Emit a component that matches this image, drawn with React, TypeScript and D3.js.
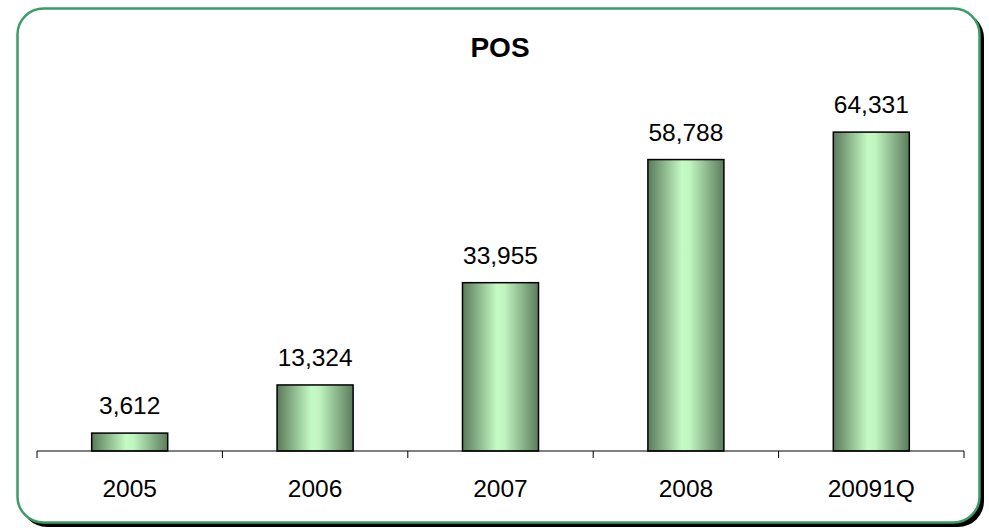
import React from "react";
import * as d3 from "d3";

const categories = ["2005", "2006", "2007", "2008", "20091Q"];
const values = [3612, 13324, 33955, 58788, 64331];
const title = "POS";

export default function App() {
  const W = 989, H = 530;
  const x0 = 37, x1 = 964, baseY = 451, topY = 104;
  const x = d3.scaleBand<string>().domain(categories).range([x0, x1]).paddingInner(0.59).paddingOuter(0.295);
  const xb = d3.scaleBand<string>().domain(categories).range([x0, x1]);
  const y = d3.scaleLinear().domain([0, 70000]).range([baseY, topY]);
  const fmt = d3.format(",");
  const ticks = d3.range(categories.length + 1).map(i => x0 + i * xb.step());
  return (
    <svg width={W} height={H} style={{ position: "absolute", left: 0, top: 0 }} fontFamily="Arial, 'Liberation Sans', sans-serif">
      <defs>
        <linearGradient id="barg" x1="0" x2="1" y1="0" y2="0">
          <stop offset="0" stopColor="#5a7a5a" />
          <stop offset="0.45" stopColor="#c4fac4" />
          <stop offset="0.55" stopColor="#c0f5c0" />
          <stop offset="1" stopColor="#5c7c5c" />
        </linearGradient>
      </defs>
      <rect x={21} y={12} width={963} height={515} rx={26} ry={26} fill="#000" />
      <rect x={17.5} y={8.5} width={962} height={514} rx={26} ry={26} fill="#fff" stroke="#3c9c68" strokeWidth={2.5} />
      <text x={500} y={57} textAnchor="middle" fontWeight="bold" fontSize={28}>{title}</text>
      {categories.map((c, i) => (
        <g key={c}>
          <rect x={x(c)!} y={y(values[i])} width={x.bandwidth()} height={baseY - y(values[i])} fill="url(#barg)" stroke="#000" strokeWidth={1.5} />
          <text x={x(c)! + x.bandwidth() / 2} y={y(values[i]) - 19} textAnchor="middle" fontSize={24.5}>{fmt(values[i])}</text>
          <text x={xb(c)! + xb.bandwidth() / 2} y={497} textAnchor="middle" fontSize={24.5}>{c}</text>
        </g>
      ))}
      <line x1={x0} x2={x1} y1={baseY} y2={baseY} stroke="#000" strokeWidth={1} />
      {ticks.map((t, i) => (
        <line key={i} x1={t} x2={t} y1={baseY} y2={baseY + 7} stroke="#000" strokeWidth={1} />
      ))}
    </svg>
  );
}
